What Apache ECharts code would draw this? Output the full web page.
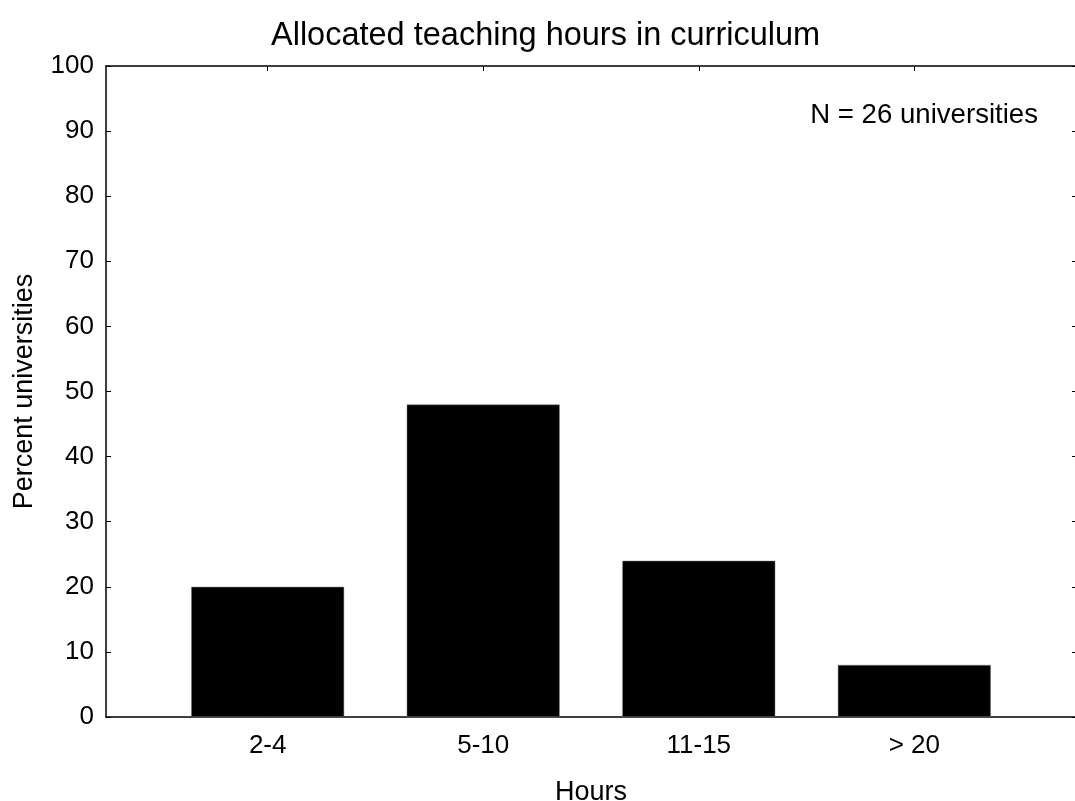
<!DOCTYPE html>
<html>
<head>
<meta charset="utf-8">
<title>Allocated teaching hours</title>
<script src="https://cdn.jsdelivr.net/npm/echarts@6/dist/echarts.min.js"></script>
<style>
  html, body { margin: 0; padding: 0; background: #fff; }
  #main { width: 1075px; height: 801px; }
</style>
</head>
<body>
<div id="main"></div>
<script>
// data
var categories = ['2-4', '5-10', '11-15', '> 20'];
var percentValues = [20, 48, 24, 8];
var yTicks = [0, 10, 20, 30, 40, 50, 60, 70, 80, 90, 100];

var font = 'Liberation Sans, Arial, sans-serif';
var catIdx = categories.map(function (c, i) { return i; });
var barData = percentValues.map(function (v, i) { return [i, v]; });

var chartDom = document.getElementById('main');
var myChart = echarts.init(chartDom);
var option;

var axisLine = { show: true, onZero: false, lineStyle: { color: '#000', width: 1.5 } };

option = {
    backgroundColor: '#fff',
    animation: false,
    title: [
        {
            text: 'Allocated teaching hours in curriculum',
            left: 266,
            top: 15,
            textStyle: { fontFamily: font, fontSize: 32.5, fontWeight: 'normal', color: '#000' }
        },
        {
            text: 'N = 26 universities',
            right: 32,
            top: 96,
            textStyle: { fontFamily: font, fontSize: 27.6, fontWeight: 'normal', color: '#000' }
        }
    ],
    grid: { left: 106, top: 66, right: -1, bottom: 84, outerBoundsMode: 'none' },
    xAxis: [
        {
            type: 'value',
            min: -0.75,
            max: 3.75,
            name: 'Hours',
            nameLocation: 'middle',
            nameGap: 62,
            nameTextStyle: { fontFamily: font, fontSize: 27, color: '#000' },
            axisLine: axisLine,
            splitLine: { show: false },
            axisTick: { inside: true, length: 5, customValues: catIdx, lineStyle: { color: '#000' } },
            axisLabel: {
                customValues: catIdx,
                margin: 16,
                fontFamily: font,
                fontSize: 26,
                color: '#000',
                formatter: function (v) { return categories[v]; }
            }
        },
        {
            type: 'value',
            position: 'top',
            min: -0.75,
            max: 3.75,
            axisLine: axisLine,
            splitLine: { show: false },
            axisTick: { inside: true, length: 5, customValues: catIdx, lineStyle: { color: '#000' } },
            axisLabel: { show: false }
        }
    ],
    yAxis: [
        {
            type: 'value',
            min: 0,
            max: 100,
            interval: 10,
            name: 'Percent universities',
            nameLocation: 'middle',
            nameGap: 68,
            nameTextStyle: { fontFamily: font, fontSize: 27, color: '#000' },
            axisLine: axisLine,
            splitLine: { show: false },
            axisTick: { inside: true, length: 5, lineStyle: { color: '#000' } },
            axisLabel: {
                margin: 12,
                fontFamily: font,
                fontSize: 26,
                color: '#000',
                customValues: yTicks
            }
        },
        {
            type: 'value',
            position: 'right',
            min: 0,
            max: 100,
            interval: 10,
            axisLine: { show: false, onZero: false },
            splitLine: { show: false },
            axisTick: { inside: true, length: 4, lineStyle: { color: '#000' } },
            axisLabel: { show: false }
        }
    ],
    series: [
        {
            type: 'bar',
            xAxisIndex: 0,
            yAxisIndex: 0,
            barWidth: 153,
            itemStyle: { color: '#000', borderColor: '#888', borderWidth: 0.5 },
            data: barData
        }
    ]
};

option && myChart.setOption(option);
</script>
</body>
</html>
